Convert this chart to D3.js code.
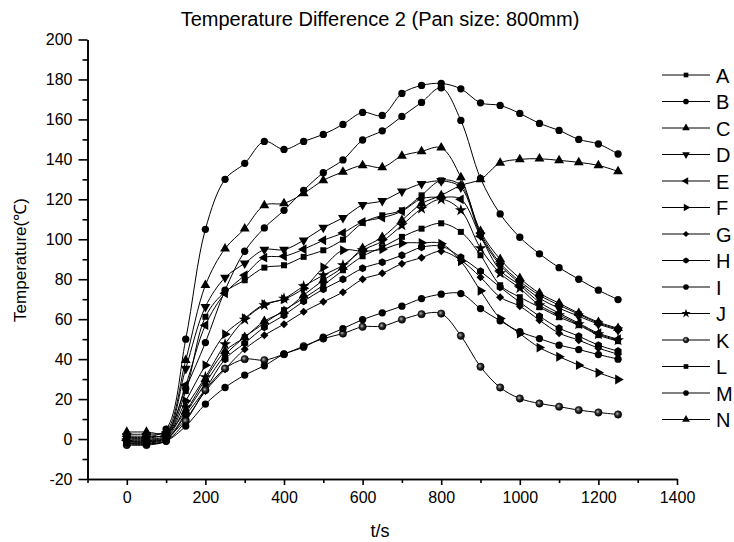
<!DOCTYPE html>
<html>
<head>
<meta charset="utf-8">
<script src="https://cdn.jsdelivr.net/npm/d3@7"></script>
<style>
  body { margin: 0; background: #fff; }
  text { font-family: Arial, "Liberation Sans", sans-serif; fill: #000; }
</style>
</head>
<body>
<svg id="chart" width="734" height="542"></svg>
<script>
// time points (s), one marker every 50 s
const times = d3.range(0, 1251, 50);

const seriesA = [-0.5, -0.5, 1.5, 24, 61.2, 73.7, 79.5, 85.8, 87, 91.2, 94.5, 99.8, 108.2, 112, 114.5, 122, 129.5, 127, 103, 88, 79, 72, 67, 62.5, 58, 55];
const seriesB = [0.5, 0.5, 3, 25.3, 48.3, 74.5, 94, 105.7, 114.5, 124.5, 133.3, 139.7, 149.7, 154.3, 161.5, 168.5, 175.8, 159.5, 130.5, 112.7, 101, 92.7, 85.8, 80, 74.5, 69.8];
const seriesC = [2.5, 2.5, 4, 39.5, 77, 95.3, 105.3, 117, 118, 123, 129.5, 133.7, 137, 136, 141.7, 144, 145.8, 131, 104, 90, 80.5, 73, 68, 63, 58.5, 55.5];
const seriesD = [1.5, 1.5, 2.5, 35.3, 66.2, 80.8, 88, 94.8, 94.8, 99.5, 105.8, 110.7, 117.2, 119.2, 124, 127.8, 129.2, 126, 102, 87, 78, 70.5, 65.5, 61.5, 57.5, 54.5];
const seriesE = [0, 0, 2, 27, 57, 73, 82, 90.8, 91.5, 95, 99.5, 103.2, 108.7, 110.8, 114, 120.3, 121, 120, 101.5, 84.5, 77, 68.5, 63, 58, 53, 50];
const seriesF = [-1, -1, 1, 19, 37, 52.5, 60.5, 67.5, 70, 75.5, 86, 94.5, 94, 95, 98, 98.2, 97.8, 89, 74.2, 60.3, 52.8, 45.8, 41.2, 37, 33.2, 29.8];
const seriesG = [-1, -1.5, 0.5, 10, 24, 35, 45, 52, 57.5, 63.7, 68.7, 73.5, 80, 83, 87.8, 90.8, 94, 89.5, 81, 71, 66.5, 59.5, 53, 49.5, 45.5, 42.5];
const seriesH = [-2.5, -2.5, -0.5, 12, 25, 40, 48, 56, 62, 69, 75, 80, 85.5, 88.5, 92, 96, 96.5, 91, 84, 76, 68.5, 61.5, 55.5, 51.5, 47, 44];
const seriesI = [1, 1, 5, 50, 105, 130, 138, 149, 145, 149, 152.5, 157.5, 163.5, 162, 173, 177, 178, 175.3, 168.3, 167, 163, 158, 154.5, 150, 147.7, 142.7];
const seriesJ = [-1.5, -1.5, 0.5, 16, 31, 47.5, 59.8, 67, 70.3, 76.5, 82, 87, 94.5, 99, 107, 115.3, 120, 114.5, 95.5, 83, 75.5, 67, 62, 57.5, 52.5, 49.5];
const seriesK = [-3, -3, -1, 9, 24.5, 35.3, 40, 39.5, 42.5, 46.5, 50.3, 52.8, 56.2, 56.5, 59.8, 62.5, 62.8, 51.7, 36.2, 25.8, 20.3, 17.8, 16.2, 14.5, 13.3, 12.3];
const seriesL = [-2, -2, 0, 13, 28, 42, 51, 58, 64.5, 70.5, 77, 84.5, 91.5, 96, 101.2, 105.3, 108, 103.7, 92, 77, 71, 66, 61, 57, 52, 49];
const seriesM = [-2, -2.5, -1, 6.5, 17.5, 25.8, 32, 36.7, 42.5, 46, 51, 55.3, 59.8, 63.2, 66.5, 70.3, 72.5, 72.8, 65.3, 59.2, 53.7, 50.3, 47, 44.8, 42.3, 40];
const seriesN = [3.5, 3.5, 3, 14, 30, 44, 51, 59, 64, 72, 79.5, 86, 95.5, 101, 109.5, 117.8, 122, 127, 130, 138.2, 140, 140.3, 139.5, 138.5, 137, 134];

const seriesNames = ["A", "B", "C", "D", "E", "F", "G", "H", "I", "J", "K", "L", "M", "N"];
const seriesValues = [seriesA, seriesB, seriesC, seriesD, seriesE, seriesF, seriesG,
                      seriesH, seriesI, seriesJ, seriesK, seriesL, seriesM, seriesN];
const seriesMarkers = ["square", "circle", "up", "down", "left", "right", "diamond",
                       "hexagon", "circle", "star", "sphere", "square", "circle", "up"];

const xTicks = d3.range(0, 1401, 200);
const xMinorTicks = d3.range(-100, 1400, 200);
const yTicks = d3.range(-20, 201, 20);
const yMinorTicks = d3.range(-10, 200, 20);

const width = 734;
const height = 542;
const margin = {left: 87.5, right: 57, top: 39.5, bottom: 63};

const svg = d3.select("#chart");

const x = d3.scaleLinear().domain([-100, 1400]).range([margin.left, width - margin.right]);
const y = d3.scaleLinear().domain([-20, 200]).range([height - margin.bottom, margin.top]);

// sphere gradient for the K markers
const grad = svg.append("defs").append("radialGradient")
    .attr("id", "sphere").attr("cx", "40%").attr("cy", "40%").attr("r", "60%");
grad.append("stop").attr("offset", "0%").attr("stop-color", "#bbb");
grad.append("stop").attr("offset", "45%").attr("stop-color", "#333");
grad.append("stop").attr("offset", "100%").attr("stop-color", "#000");

// hexagon symbol
const symbolHexagon = {
    draw(context, size) {
        const r = Math.sqrt(size * 2 / (3 * Math.sqrt(3)));
        for (let i = 0; i < 6; i++) {
            const a = Math.PI / 6 + i * Math.PI / 3;
            if (i === 0) context.moveTo(r * Math.cos(a), r * Math.sin(a));
            else context.lineTo(r * Math.cos(a), r * Math.sin(a));
        }
        context.closePath();
    }
};

function markerPath(kind, size) {
    let type = d3.symbolCircle;
    if (kind === "square") type = d3.symbolSquare;
    else if (kind === "up" || kind === "down" || kind === "left" || kind === "right") type = d3.symbolTriangle;
    else if (kind === "diamond") type = d3.symbolSquare;
    else if (kind === "hexagon") type = symbolHexagon;
    else if (kind === "star") type = d3.symbolStar;
    return d3.symbol().type(type).size(size)();
}

function markerRotate(kind) {
    if (kind === "down") return 180;
    if (kind === "left") return -90;
    if (kind === "right") return 90;
    if (kind === "diamond") return 45;
    return 0;
}

function markerSize(kind) {
    if (kind === "square") return 36;
    if (kind === "diamond") return 32;
    if (kind === "star") return 44;
    if (kind === "up" || kind === "down" || kind === "left" || kind === "right") return 42;
    return 42;
}

// axes
const fmt = d => String(d);
const xAxis = d3.axisBottom(x).tickValues(xTicks).tickSize(6).tickSizeOuter(0).tickPadding(7).tickFormat(fmt);
const xAxisMinor = d3.axisBottom(x).tickValues(xMinorTicks).tickSize(4).tickSizeOuter(0).tickFormat("");
const yAxis = d3.axisLeft(y).tickValues(yTicks).tickSize(9).tickSizeOuter(0).tickPadding(6).tickFormat(fmt);
const yAxisMinor = d3.axisLeft(y).tickValues(yMinorTicks).tickSize(5).tickSizeOuter(0).tickFormat("");

function styleAxis(g) {
    g.selectAll("path, line").attr("stroke", "#000").attr("stroke-width", 1.6);
    g.selectAll("text").attr("font-size", 16).attr("font-family", "Arial, 'Liberation Sans', sans-serif");
}

svg.append("g").attr("transform", `translate(0,${y(-20)})`).call(xAxisMinor).call(styleAxis);
svg.append("g").attr("transform", `translate(0,${y(-20)})`).call(xAxis).call(styleAxis);
svg.append("g").attr("transform", `translate(${x(-100)},0)`).call(yAxisMinor).call(styleAxis);
svg.append("g").attr("transform", `translate(${x(-100)},0)`).call(yAxis).call(styleAxis);

// lines
const line = d3.line()
    .x((d, i) => x(times[i]))
    .y(d => y(d))
    .curve(d3.curveCatmullRom.alpha(0.5));

const plot = svg.append("g");

seriesValues.forEach((vals, si) => {
    const kind = seriesMarkers[si];
    plot.append("path")
        .datum(vals)
        .attr("fill", "none")
        .attr("stroke", "#000")
        .attr("stroke-width", 1)
        .attr("d", line);

    plot.append("g").selectAll("path")
        .data(vals)
        .join("path")
        .attr("d", markerPath(kind, markerSize(kind)))
        .attr("transform", (d, i) => `translate(${x(times[i])},${y(d)}) rotate(${markerRotate(kind)})`)
        .attr("fill", kind === "sphere" ? "url(#sphere)" : "#000")
        .attr("stroke", kind === "sphere" ? "#000" : "none")
        .attr("stroke-width", 0.6);
});

// legend
const legend = svg.append("g");
const legendTop = 75;
const legendStep = 26.5;

seriesNames.forEach((name, i) => {
    const kind = seriesMarkers[i];
    const ly = legendTop + i * legendStep;
    legend.append("line")
        .attr("x1", 662).attr("x2", 710)
        .attr("y1", ly).attr("y2", ly)
        .attr("stroke", "#000").attr("stroke-width", 1);
    legend.append("path")
        .attr("d", markerPath(kind, markerSize(kind) * 0.6))
        .attr("transform", `translate(686,${ly}) rotate(${markerRotate(kind)})`)
        .attr("fill", kind === "sphere" ? "url(#sphere)" : "#000")
        .attr("stroke", kind === "sphere" ? "#000" : "none")
        .attr("stroke-width", 0.5);
    legend.append("text")
        .attr("x", 716).attr("y", ly + 7.5)
        .attr("font-size", 20)
        .text(name);
});

// title and axis labels
svg.append("text")
    .attr("x", 380).attr("y", 26)
    .attr("text-anchor", "middle")
    .attr("font-size", 20)
    .text("Temperature Difference 2 (Pan size: 800mm)");

svg.append("text")
    .attr("x", 380).attr("y", 537)
    .attr("text-anchor", "middle")
    .attr("font-size", 18)
    .text("t/s");

svg.append("text")
    .attr("transform", "translate(26,260) rotate(-90)")
    .attr("text-anchor", "middle")
    .attr("font-size", 17)
    .text("Temperature(℃)");
</script>
</body>
</html>
